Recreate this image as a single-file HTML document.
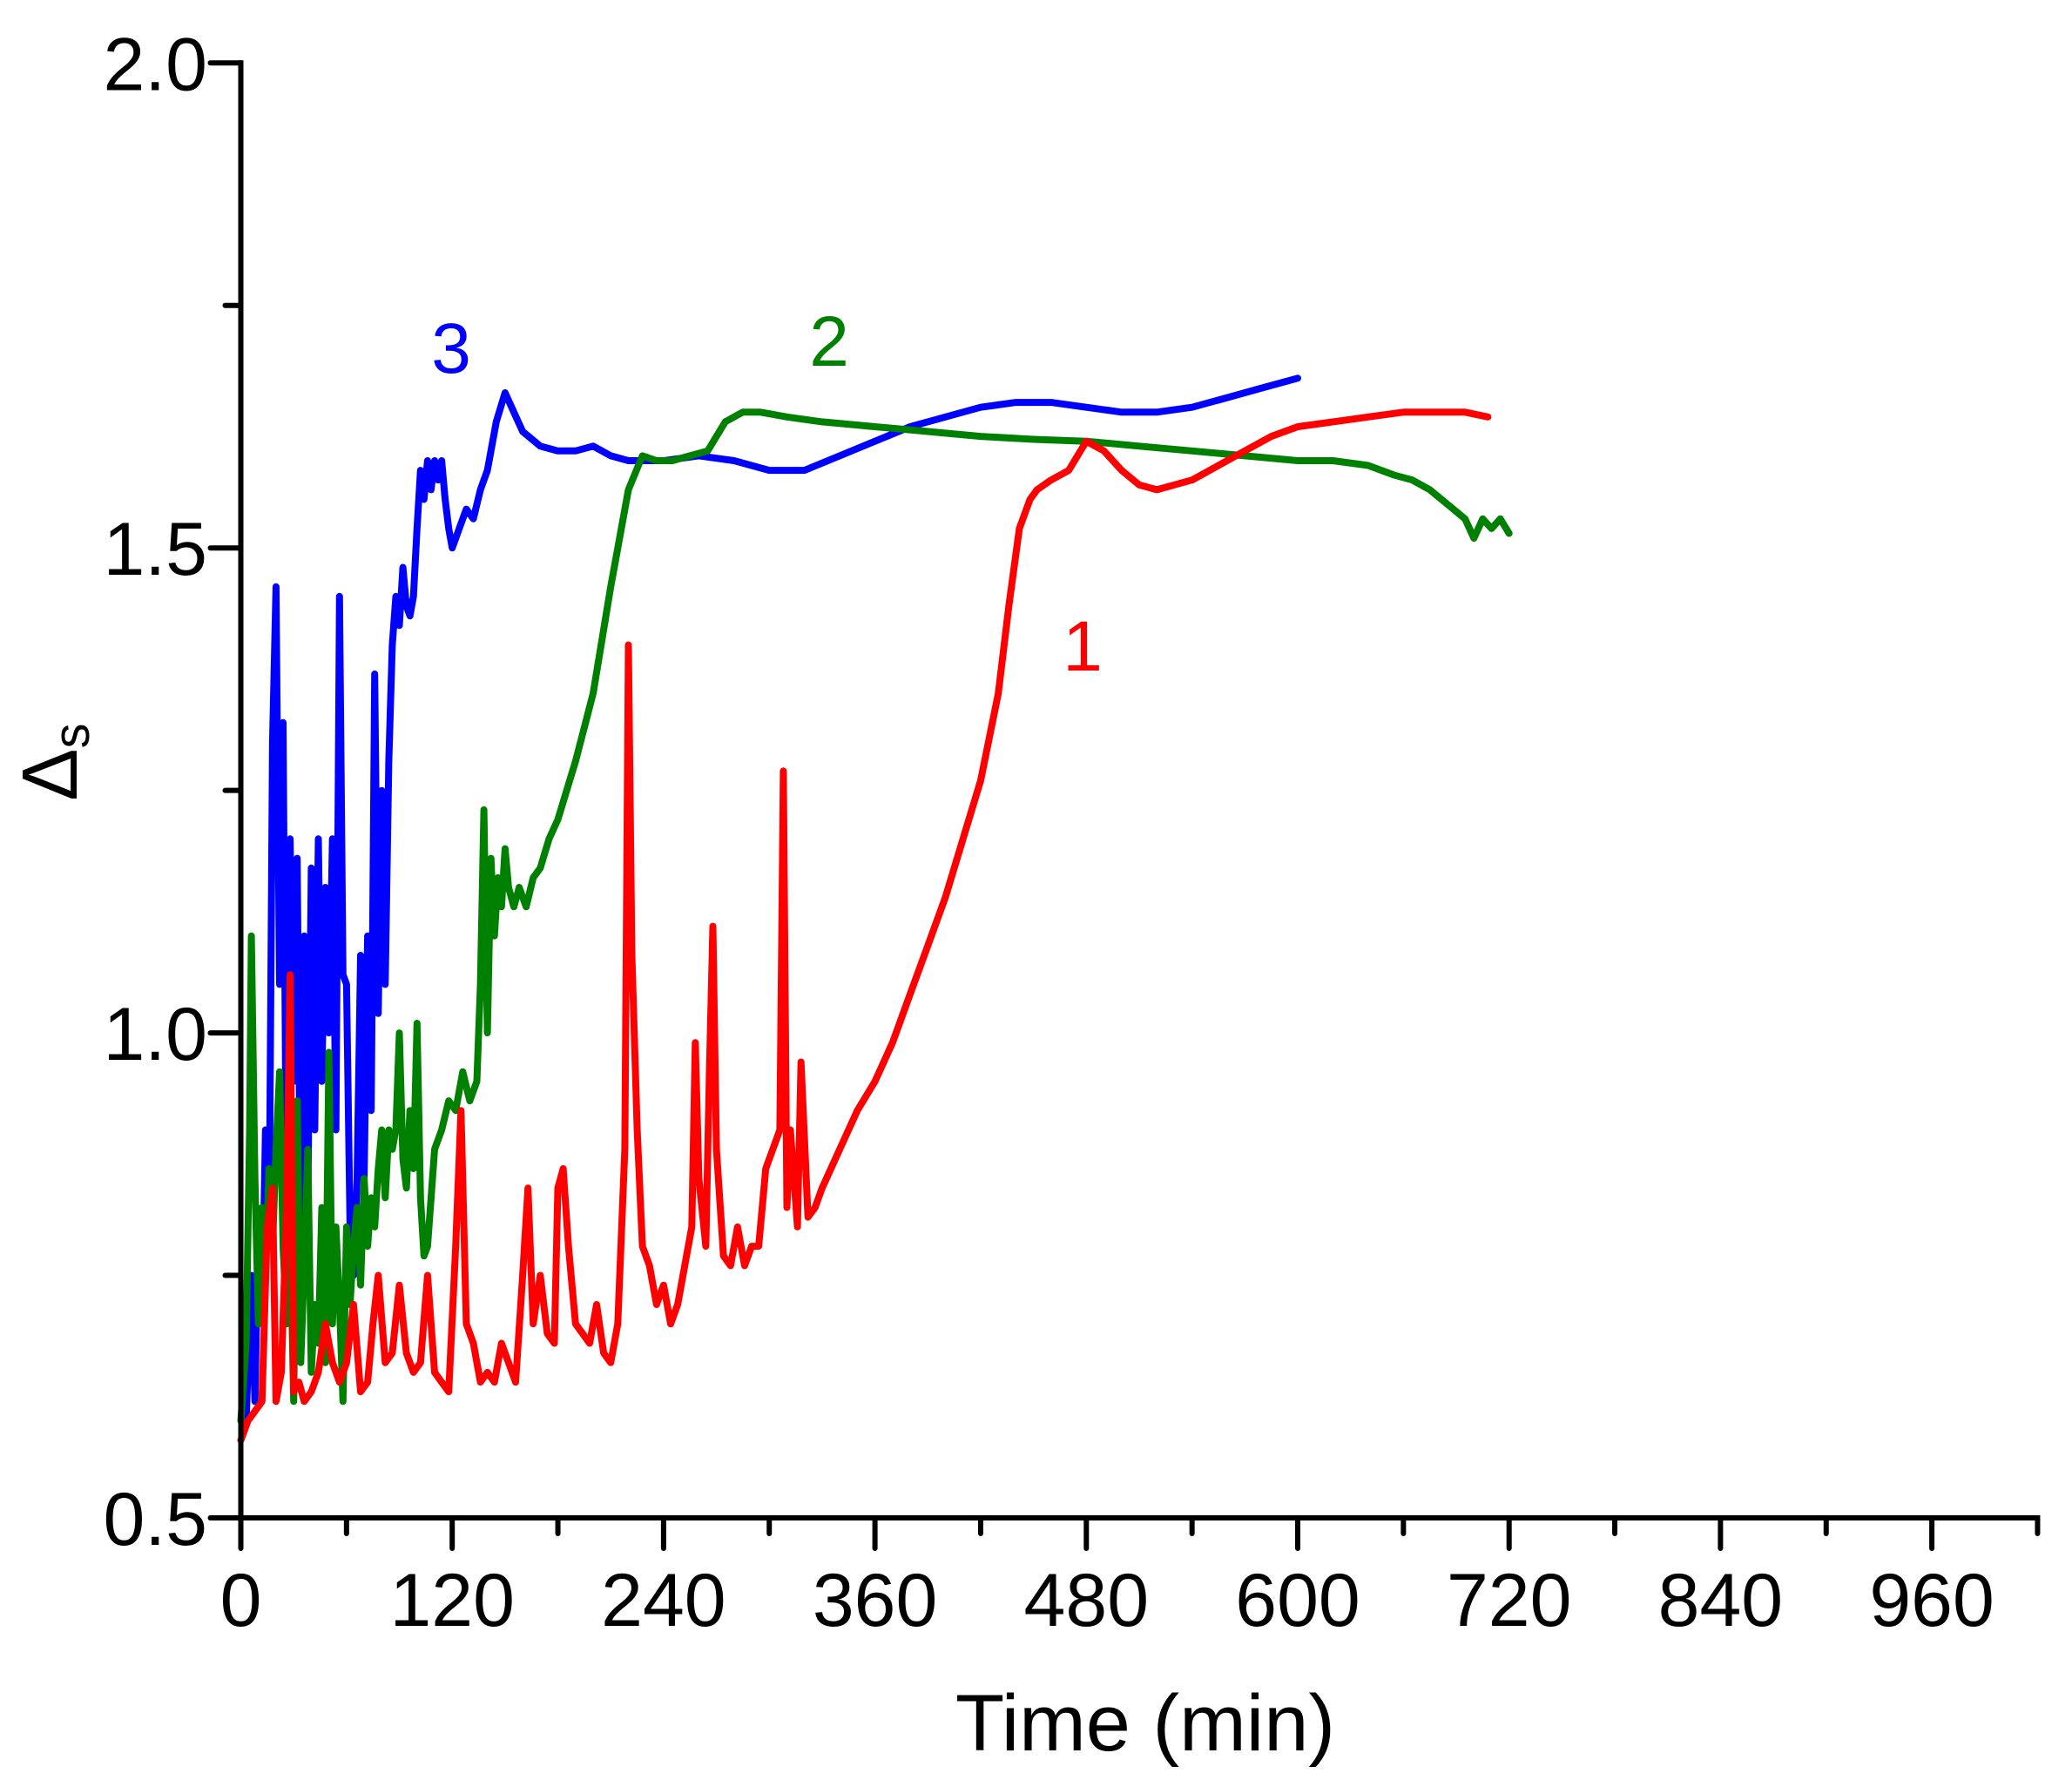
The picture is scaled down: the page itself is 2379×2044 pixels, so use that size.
<!DOCTYPE html>
<html><head><meta charset="utf-8"><style>
html,body{margin:0;padding:0;background:#fff;}
svg{display:block;}
text{font-family:"Liberation Sans",Arial,sans-serif;}
</style></head><body>
<svg id="chart" width="2379" height="2044" viewBox="0 0 2379 2044" xmlns="http://www.w3.org/2000/svg">
<g id="series"></g>
<g id="axes"></g>
</svg>
<script>
const xTicks=[0,120,240,360,480,600,720,840,960];
const yTicks=[0.5,1.0,1.5,2.0];
const yTickLabels=["0.5","1.0","1.5","2.0"];
const t1=[0,4,8,12,15,18,20,23,26,28,30,33,36,40,44,48,52,56,60,64,68,72,75,78,82,86,90,94,98,102,106,110,114,118,122,125,128,132,136,140,144,148,152,156,160,163,166,170,174,178,180,183,186,190,194,198,202,206,210,214,218,220,222,225,228,232,236,240,244,248,252,256,258,260,264,266,268,270,274,278,282,286,290,294,298,302,306,308,310,312,316,318,322,326,330,340,350,360,370,380,390,400,410,420,430,436,442,448,452,460,470,480,490,500,510,520,530,540,555,570,585,600,620,640,660,680,695,708];
const v1=[0.58,0.6,0.61,0.62,0.8,0.84,0.62,0.65,0.82,1.06,0.63,0.64,0.62,0.63,0.65,0.7,0.66,0.64,0.66,0.72,0.63,0.64,0.7,0.75,0.66,0.67,0.74,0.67,0.65,0.66,0.75,0.65,0.64,0.63,0.78,0.92,0.7,0.68,0.64,0.65,0.64,0.68,0.66,0.64,0.75,0.84,0.7,0.75,0.69,0.68,0.84,0.86,0.78,0.7,0.69,0.68,0.72,0.67,0.66,0.7,0.88,1.4,1.08,0.9,0.78,0.76,0.72,0.74,0.7,0.72,0.76,0.8,0.99,0.85,0.78,0.96,1.11,0.88,0.77,0.76,0.8,0.76,0.78,0.78,0.86,0.88,0.9,1.27,0.82,0.9,0.8,0.97,0.81,0.82,0.84,0.88,0.92,0.95,0.99,1.04,1.09,1.14,1.2,1.26,1.35,1.44,1.52,1.55,1.56,1.57,1.58,1.61,1.6,1.58,1.565,1.56,1.565,1.57,1.585,1.6,1.615,1.625,1.63,1.635,1.64,1.64,1.64,1.635];
const t2=[0,3,5,6,8,10,12,14,16,18,20,22,24,26,28,30,32,34,36,38,40,42,44,46,48,50,52,54,56,58,60,62,64,66,68,70,72,74,76,78,80,82,84,86,88,90,92,94,96,98,100,102,104,106,110,114,118,122,126,130,134,136,138,140,142,144,146,148,150,152,155,158,162,166,170,175,180,190,200,210,220,228,236,245,255,265,275,285,295,310,330,360,390,420,450,480,510,540,570,600,620,640,655,665,675,685,695,700,705,710,715,720];
const v2=[0.6,0.68,0.9,1.1,0.85,0.7,0.82,0.75,0.86,0.78,0.88,0.96,0.78,0.7,0.8,0.62,0.93,0.66,0.76,0.88,0.65,0.72,0.68,0.82,0.66,0.98,0.7,0.8,0.72,0.62,0.8,0.72,0.78,0.82,0.74,0.85,0.78,0.83,0.8,0.86,0.9,0.83,0.9,0.88,0.9,1.0,0.87,0.84,0.92,0.86,1.01,0.83,0.77,0.78,0.88,0.9,0.93,0.92,0.96,0.93,0.95,1.05,1.23,1.0,1.18,1.1,1.16,1.13,1.19,1.15,1.13,1.15,1.13,1.16,1.17,1.2,1.22,1.28,1.35,1.46,1.56,1.595,1.59,1.59,1.595,1.6,1.63,1.64,1.64,1.635,1.63,1.625,1.62,1.615,1.612,1.61,1.605,1.6,1.595,1.59,1.59,1.585,1.575,1.57,1.56,1.545,1.53,1.51,1.53,1.52,1.53,1.515];
const t3=[3,6,8,10,12,14,16,18,20,22,24,26,28,30,32,34,36,38,40,42,44,46,48,50,52,54,56,58,60,62,64,66,68,70,72,74,76,78,80,82,84,86,88,90,92,94,96,98,100,102,104,106,108,110,112,114,116,118,120,124,128,132,136,140,145,150,155,160,170,180,190,200,210,220,230,240,260,280,300,320,340,360,380,400,420,440,460,480,500,520,540,560,580,600];
const v3=[0.6,0.75,0.62,0.8,0.7,0.9,0.78,1.3,1.46,1.05,1.32,0.8,1.2,0.95,1.18,0.78,1.1,0.82,1.17,0.9,1.2,0.95,1.15,1.0,1.2,0.9,1.45,1.06,1.05,0.8,0.75,0.85,1.08,0.85,1.1,0.92,1.37,1.02,1.25,1.05,1.28,1.4,1.45,1.42,1.48,1.44,1.43,1.45,1.52,1.58,1.55,1.59,1.56,1.59,1.57,1.59,1.55,1.52,1.5,1.52,1.54,1.53,1.56,1.58,1.63,1.66,1.64,1.62,1.605,1.6,1.6,1.605,1.595,1.59,1.59,1.59,1.595,1.59,1.58,1.58,1.595,1.61,1.625,1.635,1.645,1.65,1.65,1.645,1.64,1.64,1.645,1.655,1.665,1.675];
const seriesColors=["#ff0000","#008000","#0000ff"];

const X0=276.5, PXMIN=2.0225, Y0=1743, PXUNIT=1113.8;
function xs(t){return X0+t*PXMIN;}
function ys(v){return Y0-(v-0.5)*PXUNIT;}
const NS="http://www.w3.org/2000/svg";
function mk(tag,attrs,parent){const e=document.createElementNS(NS,tag);for(const k in attrs)e.setAttribute(k,attrs[k]);parent.appendChild(e);return e;}
const sg=document.getElementById('series'), ag=document.getElementById('axes');
const allT=[t1,t2,t3], allV=[v1,v2,v3], names=["series-1-line","series-2-line","series-3-line"];
for(let i=2;i>=0;i--){
  const d=allT[i].map((t,j)=>(j?'L':'M')+xs(t).toFixed(1)+' '+ys(allV[i][j]).toFixed(1)).join(' ');
  const p=mk('path',{d:d,fill:'none',stroke:seriesColors[i],'stroke-width':8,'stroke-linejoin':'round','stroke-linecap':'round'},sg);
  
  
}
const xa=mk('line',{x1:X0-3,y1:Y0,x2:xs(1020)+3,y2:Y0,stroke:'#000','stroke-width':6},ag);


const ya=mk('line',{x1:X0,y1:Y0+3,x2:X0,y2:ys(2.0)-3,stroke:'#000','stroke-width':6},ag);


for(let t=0;t<=1020;t+=60){
  const major=xTicks.indexOf(t)>=0;
  const tk=mk('line',{x1:xs(t),y1:Y0,x2:xs(t),y2:Y0+(major?35:18),stroke:'#000','stroke-width':6,'stroke-linecap':'round'},ag);
  
  
}
xTicks.forEach(t=>{
  const tx=mk('text',{x:xs(t),y:1867,'font-size':86,'text-anchor':'middle'},ag);
  tx.textContent=String(t);
  
  
});
for(let v=0.5;v<=2.001;v+=0.25){
  const major=Math.abs(v*2-Math.round(v*2))<1e-6;
  const tk=mk('line',{x1:X0,y1:ys(v),x2:X0-(major?35:18),y2:ys(v),stroke:'#000','stroke-width':6,'stroke-linecap':'round'},ag);
  
  
}
yTicks.forEach((v,i)=>{
  const tx=mk('text',{x:238,y:ys(v)+31,'font-size':86,'text-anchor':'end'},ag);
  tx.textContent=yTickLabels[i];
  
  
});
</script>
<div style="position:absolute;left:0;top:0;width:2379px;height:2044px;pointer-events:none;">
<svg width="2379" height="2044" xmlns="http://www.w3.org/2000/svg">
<text x="1315" y="2022" font-size="92" text-anchor="middle" font-family="Liberation Sans, sans-serif" transform="translate(0,-12)">Time (min)</text>
<text transform="translate(88,875) rotate(-90)" font-size="90" text-anchor="middle" font-family="Liberation Sans, sans-serif">Δ<tspan font-size="58" dy="14">s</tspan></text>
<text x="518" y="428" font-size="82" fill="#0000ff" text-anchor="middle" font-family="Liberation Sans, sans-serif">3</text>
<text x="952" y="420" font-size="82" fill="#008000" text-anchor="middle" font-family="Liberation Sans, sans-serif">2</text>
<text x="1243" y="770" font-size="82" fill="#ff0000" text-anchor="middle" font-family="Liberation Sans, sans-serif">1</text>
</svg></div>
</body></html>
